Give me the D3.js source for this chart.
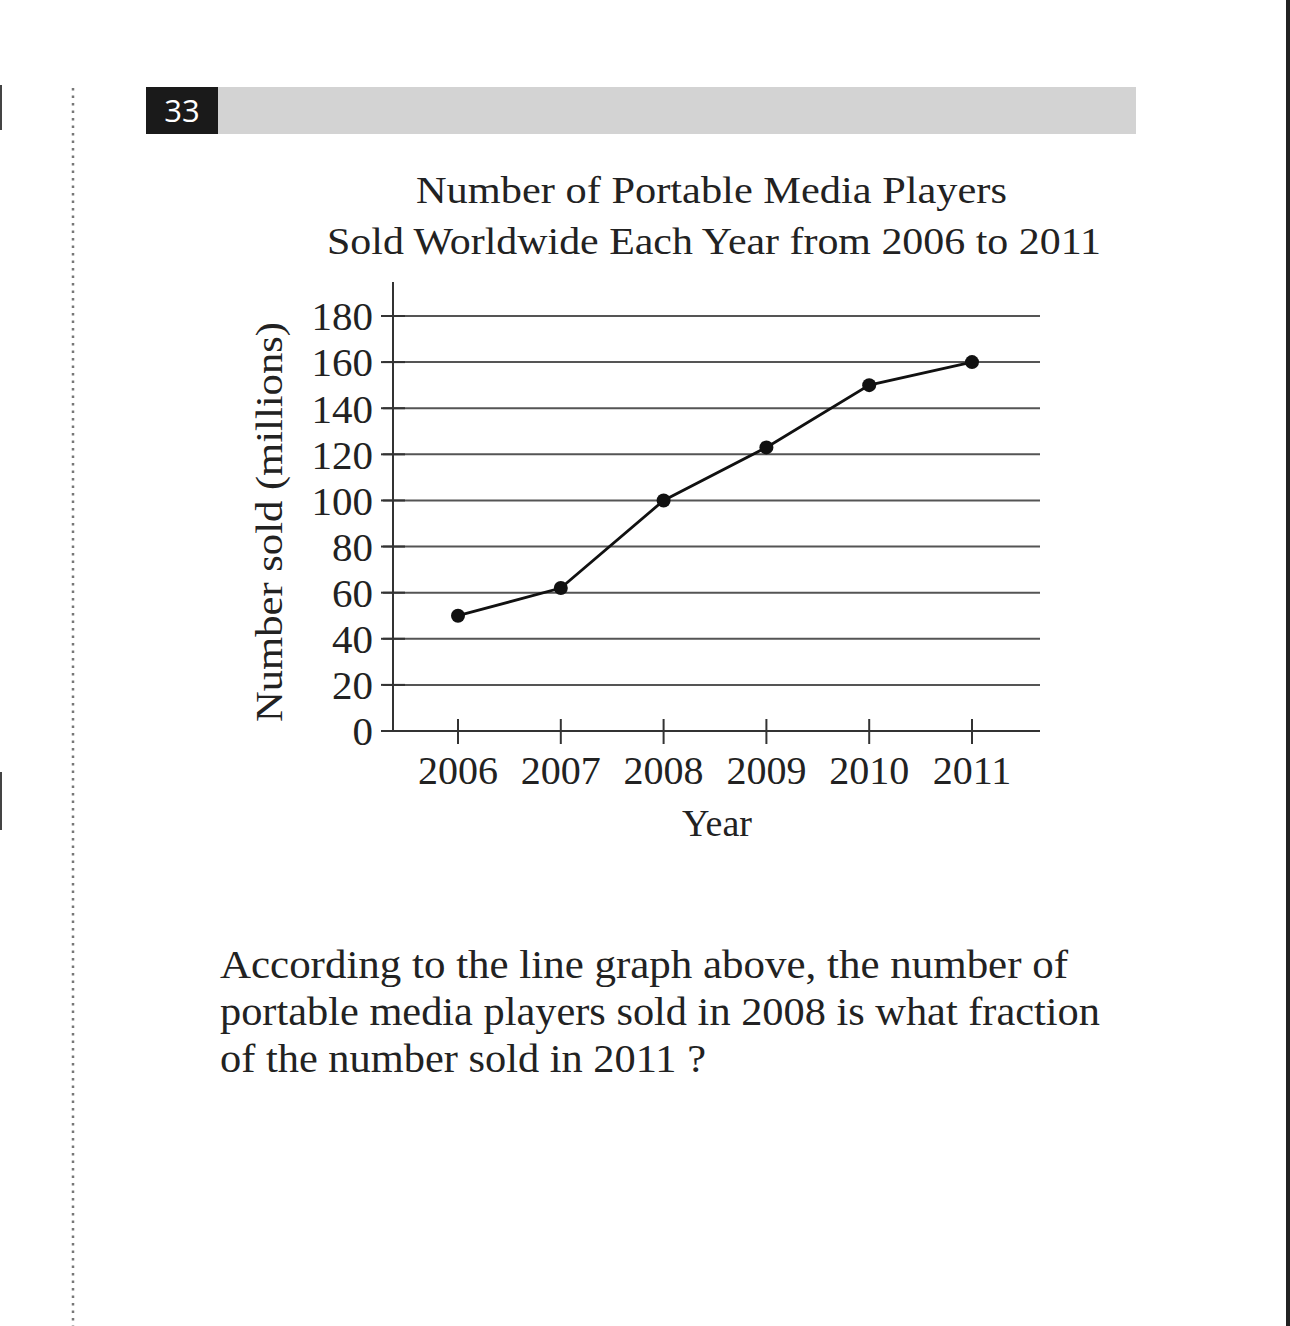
<!DOCTYPE html>
<html>
<head>
<meta charset="utf-8">
<script src="https://cdn.jsdelivr.net/npm/d3@7"></script>
<style>
  html, body { margin: 0; padding: 0; background: #fff; }
  svg { display: block; }
</style>
</head>
<body>
<svg id="chart" width="1290" height="1326"></svg>
<script>
const years = [2006, 2007, 2008, 2009, 2010, 2011];
const sold = [50, 62, 100, 123, 150, 160];
const yTicks = [0, 20, 40, 60, 80, 100, 120, 140, 160, 180];
const titleLines = ["Number of Portable Media Players", "Sold Worldwide Each Year from 2006 to 2011"];
const yLabel = "Number sold (millions)";
const xLabel = "Year";
const questionNumber = "33";
const questionLines = [
  "According to the line graph above, the number of",
  "portable media players sold in 2008 is what fraction",
  "of the number sold in 2011 ?"
];

const serif = "'Liberation Serif', 'DejaVu Serif', serif";
const svg = d3.select("#chart");

// page decorations
svg.append("line").attr("x1", 73).attr("x2", 73).attr("y1", 88).attr("y2", 1326)
  .attr("stroke", "#777").attr("stroke-width", 2.5).attr("stroke-dasharray", "2.5,5");
svg.append("rect").attr("x", 1286).attr("y", 0).attr("width", 4).attr("height", 1326).attr("fill", "#222");
svg.append("rect").attr("x", 0).attr("y", 85).attr("width", 2).attr("height", 45).attr("fill", "#444");
svg.append("rect").attr("x", 0).attr("y", 772).attr("width", 2).attr("height", 58).attr("fill", "#444");

// header bar
svg.append("rect").attr("x", 218).attr("y", 87).attr("width", 918).attr("height", 47).attr("fill", "#d3d3d3");
svg.append("rect").attr("x", 146).attr("y", 87).attr("width", 72).attr("height", 47).attr("fill", "#1a1a1a");
svg.append("text").attr("x", 182).attr("y", 122).attr("text-anchor", "middle")
  .attr("font-family", "'Open Sans', 'DejaVu Sans', sans-serif").attr("font-size", 31)
  .attr("fill", "#fff").text(questionNumber);

// title
const titleLen = [591, 774];
svg.selectAll("text.title").data(titleLines).join("text")
  .attr("class", "title")
  .attr("x", (d, i) => i === 0 ? 711.5 : 714).attr("y", (d, i) => 203 + i * 51)
  .attr("text-anchor", "middle").attr("font-family", serif).attr("font-size", 38)
  .attr("textLength", (d, i) => titleLen[i]).attr("lengthAdjust", "spacingAndGlyphs")
  .attr("fill", "#222").text(d => d);

// scales
const x = d3.scaleLinear().domain([2006, 2011]).range([458, 972]);
const y = d3.scaleLinear().domain([0, 180]).range([731, 316]);
const plotLeft = 393, plotRight = 1040;

const g = svg.append("g");

// gridlines
g.selectAll("line.grid").data(yTicks).join("line")
  .attr("class", "grid")
  .attr("x1", 383).attr("x2", plotRight)
  .attr("y1", d => y(d)).attr("y2", d => y(d))
  .attr("stroke", d => d === 0 ? "#333" : "#555").attr("stroke-width", 2);
// tick emphasis crossing the axis
g.selectAll("line.ytick").data(yTicks).join("line")
  .attr("class", "ytick")
  .attr("x1", 381).attr("x2", 405)
  .attr("y1", d => y(d)).attr("y2", d => y(d))
  .attr("stroke", "#333").attr("stroke-width", 2);

// y axis line
g.append("line").attr("x1", plotLeft).attr("x2", plotLeft).attr("y1", 282).attr("y2", y(0) + 1)
  .attr("stroke", "#333").attr("stroke-width", 2);

// x ticks
g.selectAll("line.xtick").data(years).join("line")
  .attr("class", "xtick")
  .attr("x1", d => x(d)).attr("x2", d => x(d))
  .attr("y1", y(0) - 12).attr("y2", y(0) + 13)
  .attr("stroke", "#333").attr("stroke-width", 2);

// y tick labels
g.selectAll("text.ylab").data(yTicks).join("text")
  .attr("class", "ylab")
  .attr("x", 373).attr("y", d => y(d)).attr("dy", "0.35em")
  .attr("text-anchor", "end").attr("font-family", serif).attr("font-size", 41)
  .attr("fill", "#222").text(d => d);

// x tick labels
g.selectAll("text.xlab").data(years).join("text")
  .attr("class", "xlab")
  .attr("x", d => x(d)).attr("y", 784)
  .attr("text-anchor", "middle").attr("font-family", serif).attr("font-size", 40)
  .attr("fill", "#222").text(d => d);

// axis titles
svg.append("text").attr("x", 717).attr("y", 836).attr("text-anchor", "middle")
  .attr("font-family", serif).attr("font-size", 38).attr("fill", "#222").text(xLabel);
svg.append("text").attr("transform", "translate(282,522) rotate(-90)")
  .attr("text-anchor", "middle").attr("font-family", serif).attr("font-size", 38)
  .attr("textLength", 400).attr("lengthAdjust", "spacingAndGlyphs")
  .attr("fill", "#222").text(yLabel);

// data line
const line = d3.line().x((d, i) => x(years[i])).y(d => y(d));
g.append("path").datum(sold).attr("d", line)
  .attr("fill", "none").attr("stroke", "#111").attr("stroke-width", 2.8);
g.selectAll("circle.pt").data(sold).join("circle")
  .attr("class", "pt")
  .attr("cx", (d, i) => x(years[i])).attr("cy", d => y(d)).attr("r", 7)
  .attr("fill", "#111");

// question text
const qLen = [848, 880, 486];
svg.selectAll("text.q").data(questionLines).join("text")
  .attr("class", "q")
  .attr("x", 220).attr("y", (d, i) => 978 + i * 47)
  .attr("font-family", serif).attr("font-size", 39).attr("fill", "#222")
  .attr("textLength", (d, i) => qLen[i]).attr("lengthAdjust", "spacingAndGlyphs")
  .text(d => d);
</script>
</body>
</html>
